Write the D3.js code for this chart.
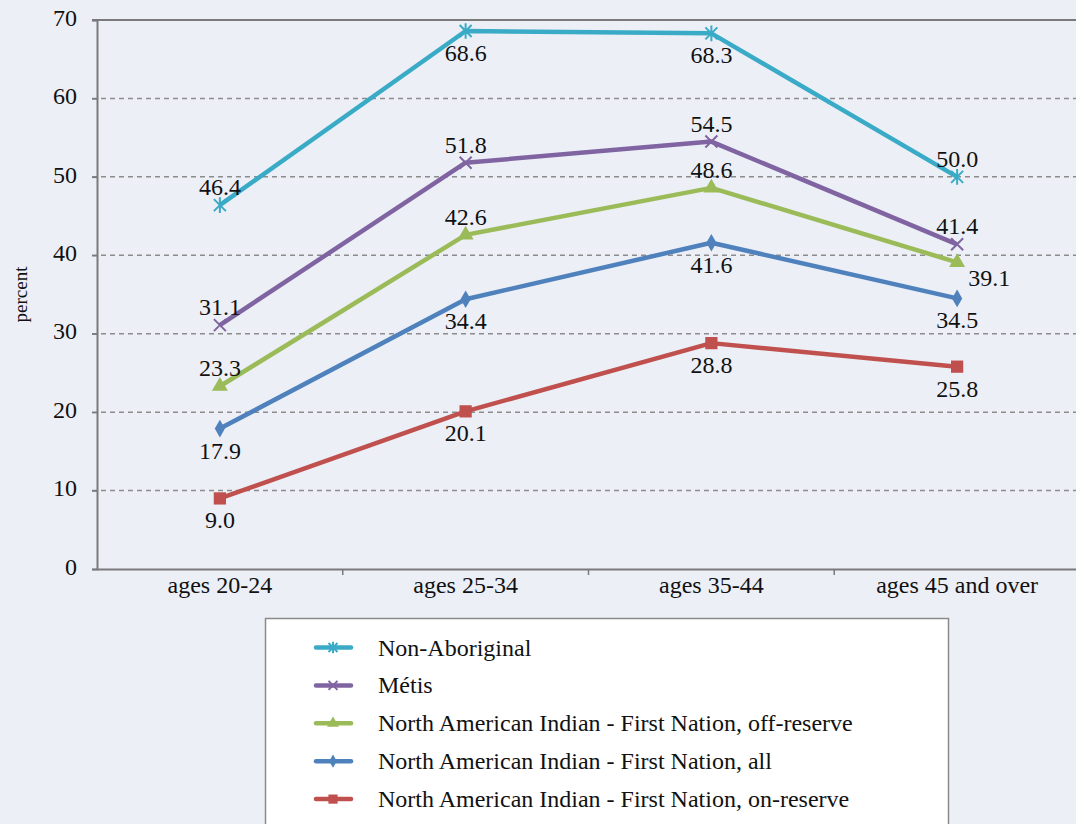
<!DOCTYPE html>
<html>
<head>
<meta charset="utf-8">
<script src="https://cdn.jsdelivr.net/npm/d3@7"></script>
<style>
  body { margin: 0; background: #eceff6; }
  text { font-family: "Liberation Serif", "DejaVu Serif", "Noto Serif", "Nimbus Roman", "FreeSerif", serif; }
</style>
</head>
<body>
<div id="chart"></div>
<script>
const categories = ['ages 20-24', 'ages 25-34', 'ages 35-44', 'ages 45 and over'];
const yTicks = [0, 10, 20, 30, 40, 50, 60, 70];

const nonAboriginal = [46.4, 68.6, 68.3, 50.0];
const metis = [31.1, 51.8, 54.5, 41.4];
const offReserve = [23.3, 42.6, 48.6, 39.1];
const allFirstNation = [17.9, 34.4, 41.6, 34.5];
const onReserve = [9.0, 20.1, 28.8, 25.8];

// label placement per point: 'a' above, 'b' below, 'r' right
const series = [
  { name: 'Non-Aboriginal', values: nonAboriginal, color: '#3aabc6', marker: 'star', pos: ['a', 'b', 'b', 'a'] },
  { name: 'Métis', values: metis, color: '#8064a2', marker: 'x', pos: ['a', 'a', 'a', 'a'] },
  { name: 'North American Indian - First Nation, off-reserve', values: offReserve, color: '#9bbb59', marker: 'triangle', pos: ['a', 'a', 'a', 'r'] },
  { name: 'North American Indian - First Nation, all', values: allFirstNation, color: '#4f81bd', marker: 'diamond', pos: ['b', 'b', 'b', 'b'] },
  { name: 'North American Indian - First Nation, on-reserve', values: onReserve, color: '#c0504d', marker: 'square', pos: ['b', 'b', 'b', 'b'] },
];

const W = 1076, H = 824;
const plot = { left: 97, right: 1080, top: 20, bottom: 569 };
const FS = 24;

const svg = d3.select('#chart').append('svg').attr('width', W).attr('height', H);

const x = d3.scaleBand().domain(categories).range([plot.left, plot.right]).padding(0);
const cx = (c) => x(c) + x.bandwidth() / 2;
const y = d3.scaleLinear().domain([0, 70]).range([plot.bottom, plot.top]);

// gridlines
svg.append('g')
  .selectAll('line')
  .data(yTicks.filter((t) => t > 0 && t < 70))
  .enter()
  .append('line')
  .attr('x1', plot.left - 5)
  .attr('x2', plot.right)
  .attr('y1', (d) => y(d))
  .attr('y2', (d) => y(d))
  .attr('stroke', '#8c8c8c')
  .attr('stroke-width', 1.5)
  .attr('stroke-dasharray', '5,4');

// top border
svg.append('line')
  .attr('x1', plot.left - 5).attr('x2', plot.right)
  .attr('y1', y(70)).attr('y2', y(70))
  .attr('stroke', '#7a7a7a').attr('stroke-width', 2);

// y axis
const yAxis = svg.append('g')
  .attr('transform', `translate(${plot.left}, 0)`)
  .call(d3.axisLeft(y).tickValues(yTicks).tickSize(5).tickPadding(15));
yAxis.attr('font-size', FS);
yAxis.select('.domain').attr('stroke', '#7a7a7a').attr('stroke-width', 2);
yAxis.selectAll('.tick line').attr('stroke', '#7a7a7a').attr('stroke-width', 1.5);
yAxis.selectAll('.tick text').attr('fill', '#111').attr('dy', '0.22em');

// x axis
const xAxis = svg.append('g')
  .attr('transform', `translate(0, ${plot.bottom})`)
  .call(d3.axisBottom(x).tickSize(0).tickPadding(7));
xAxis.attr('font-size', FS);
xAxis.select('.domain').attr('stroke', '#7a7a7a').attr('stroke-width', 2);
xAxis.selectAll('.tick text').attr('fill', '#111');
// category boundary ticks
svg.append('g')
  .selectAll('line')
  .data(categories.slice(1))
  .enter()
  .append('line')
  .attr('x1', (d) => x(d))
  .attr('x2', (d) => x(d))
  .attr('y1', plot.bottom)
  .attr('y2', plot.bottom + 6)
  .attr('stroke', '#7a7a7a')
  .attr('stroke-width', 1.5);

// y axis title
svg.append('text')
  .attr('transform', `translate(27, ${(plot.top + plot.bottom) / 2}) rotate(-90)`)
  .attr('text-anchor', 'middle')
  .attr('font-size', 19)
  .attr('fill', '#111')
  .text('percent');

function drawMarker(g, type, color, s) {
  if (type === 'star') {
    g.append('path')
      .attr('d', `M${-s},${-s}L${s},${s}M${-s},${s}L${s},${-s}M0,${-s * 1.3}L0,${s * 1.3}`)
      .attr('stroke', color).attr('stroke-width', 2).attr('fill', 'none');
  } else if (type === 'x') {
    g.append('path')
      .attr('d', `M${-s},${-s}L${s},${s}M${-s},${s}L${s},${-s}`)
      .attr('stroke', color).attr('stroke-width', 2).attr('fill', 'none');
  } else {
    const t = { triangle: d3.symbolTriangle, diamond: d3.symbolDiamond, square: d3.symbolSquare }[type];
    const size = { triangle: 110, diamond: 90, square: 150 }[type] * (s / 6) * (s / 6);
    g.append('path')
      .attr('d', d3.symbol().type(t).size(size)())
      .attr('fill', color);
  }
}

const line = d3.line().x((d) => cx(d.cat)).y((d) => y(d.v));

series.forEach((s) => {
  const pts = s.values.map((v, i) => ({ cat: categories[i], v, pos: s.pos[i] }));
  const g = svg.append('g');
  g.append('path')
    .datum(pts)
    .attr('d', line)
    .attr('fill', 'none')
    .attr('stroke', s.color)
    .attr('stroke-width', 4.5)
    .attr('stroke-linejoin', 'round');
  pts.forEach((p) => {
    const m = g.append('g').attr('transform', `translate(${cx(p.cat)}, ${y(p.v)})`);
    drawMarker(m, s.marker, s.color, 6);
  });
  g.selectAll('text.lbl')
    .data(pts)
    .enter()
    .append('text')
    .attr('class', 'lbl')
    .attr('x', (p) => cx(p.cat) + (p.pos === 'r' ? 11 : 0))
    .attr('y', (p) => y(p.v) + (p.pos === 'a' ? -10 : p.pos === 'b' ? 30 : 24))
    .attr('text-anchor', (p) => (p.pos === 'r' ? 'start' : 'middle'))
    .attr('font-size', FS)
    .attr('fill', '#111')
    .text((p) => p.v.toFixed(1));
});

// legend
const legend = svg.append('g');
legend.append('rect')
  .attr('x', 265.5).attr('y', 618.5)
  .attr('width', 683).attr('height', 220)
  .attr('fill', '#ffffff')
  .attr('stroke', '#8a8a8a')
  .attr('stroke-width', 1.5);

series.forEach((s, i) => {
  const ly = 647.5 + i * 37.9;
  const g = legend.append('g').attr('transform', `translate(0, ${ly})`);
  g.append('line')
    .attr('x1', 316).attr('x2', 351)
    .attr('stroke', s.color).attr('stroke-width', 4.5).attr('stroke-linecap', 'round');
  const m = g.append('g').attr('transform', 'translate(333, 0)');
  drawMarker(m, s.marker, s.color, 4.5);
  g.append('text')
    .attr('x', 378).attr('y', 8)
    .attr('font-size', FS)
    .attr('fill', '#111')
    .text(s.name);
});
</script>
</body>
</html>
